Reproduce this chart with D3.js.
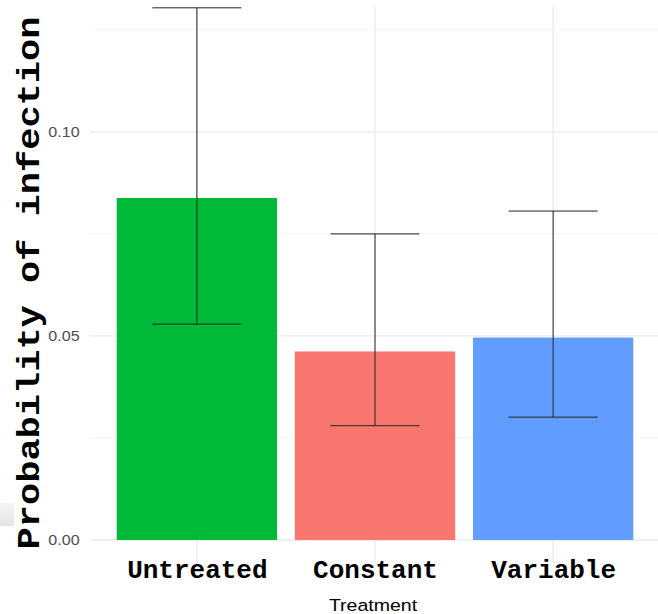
<!DOCTYPE html>
<html>
<head>
<meta charset="utf-8">
<script src="https://cdn.jsdelivr.net/npm/d3@7"></script>
<style>
  body { margin: 0; background: #fff; }
  svg { display: block; }
</style>
</head>
<body>
<script>
// values
const treatments = ["Untreated", "Constant", "Variable"];
const probability = [0.0838, 0.0462, 0.0496];
const lowerCI = [0.0529, 0.0280, 0.0301];
const upperCI = [0.1304, 0.0750, 0.0806];
const barColors = ["#00BA38", "#F8766D", "#619CFF"];
const majorTicks = [0, 0.05, 0.10];
const minorTicks = [0.025, 0.075, 0.125];

function main(){
    const width = 658, height = 614;
    const panel = {left: 90, right: 660, top: 7, bottom: 563};

    const svg = d3.select("body").append("svg")
        .attr("width", width)
        .attr("height", height);

    const data = treatments.map((t, i) => ({
        name: t, p: probability[i], lo: lowerCI[i], hi: upperCI[i], color: barColors[i]
    }));

    const x = d3.scalePoint()
        .domain(treatments)
        .range([panel.left, panel.right])
        .padding(0.6);
    const step = x.step();

    const y = d3.scaleLinear()
        .domain([-0.00564, 0.1306])
        .range([panel.bottom, panel.top]);

    // small grey artefact on the left edge of the screenshot
    const grad = svg.append("defs").append("linearGradient")
        .attr("id", "ghost").attr("x1", 0).attr("x2", 0).attr("y1", 0).attr("y2", 1);
    grad.append("stop").attr("offset", 0).attr("stop-color", "#f4f4f4");
    grad.append("stop").attr("offset", 1).attr("stop-color", "#e4e4e4");
    svg.append("rect")
        .attr("x", 0).attr("y", 503).attr("width", 14).attr("height", 23)
        .attr("fill", "url(#ghost)");

    // gridlines
    const grid = svg.append("g");
    grid.selectAll(".minor").data(minorTicks).join("line")
        .attr("x1", panel.left).attr("x2", width)
        .attr("y1", d => y(d)).attr("y2", d => y(d))
        .attr("stroke", "#f3f3f3").attr("stroke-width", 1);
    grid.selectAll(".major").data(majorTicks).join("line")
        .attr("x1", panel.left).attr("x2", width)
        .attr("y1", d => y(d)).attr("y2", d => y(d))
        .attr("stroke", "#ebebeb").attr("stroke-width", 1.3);
    grid.selectAll(".vert").data(treatments).join("line")
        .attr("x1", d => x(d)).attr("x2", d => x(d))
        .attr("y1", panel.top).attr("y2", panel.bottom)
        .attr("stroke", "#ebebeb").attr("stroke-width", 1.3);

    // bars
    svg.append("g").selectAll("rect").data(data).join("rect")
        .attr("x", d => x(d.name) - step * 0.45)
        .attr("width", step * 0.9)
        .attr("y", d => y(d.p))
        .attr("height", d => y(0) - y(d.p))
        .attr("fill", d => d.color);

    // error bars
    const eb = svg.append("g")
        .attr("stroke", "#222").attr("stroke-width", 1).attr("fill", "none");
    eb.selectAll(".stem").data(data).join("line")
        .attr("x1", d => x(d.name)).attr("x2", d => x(d.name))
        .attr("y1", d => y(d.lo)).attr("y2", d => y(d.hi));
    eb.selectAll(".top").data(data).join("line")
        .attr("x1", d => x(d.name) - step * 0.25).attr("x2", d => x(d.name) + step * 0.25)
        .attr("y1", d => y(d.hi)).attr("y2", d => y(d.hi));
    eb.selectAll(".bot").data(data).join("line")
        .attr("x1", d => x(d.name) - step * 0.25).attr("x2", d => x(d.name) + step * 0.25)
        .attr("y1", d => y(d.lo)).attr("y2", d => y(d.lo));

    // y axis (labels only)
    const yAxis = svg.append("g")
        .attr("transform", "translate(" + panel.left + ",0)")
        .call(d3.axisLeft(y).tickValues(majorTicks).tickFormat(d3.format(".2f")).tickSize(0).tickPadding(9));
    yAxis.select(".domain").remove();
    yAxis.selectAll("text")
        .attr("font-family", "Liberation Sans, Arial, sans-serif")
        .attr("font-size", "14px")
        .attr("fill", "#4d4d4d")
        .attr("transform", "scale(1.15,1)");

    // x axis (labels only)
    const xAxis = svg.append("g")
        .attr("transform", "translate(0," + y(0) + ")")
        .call(d3.axisBottom(x).tickSize(0).tickPadding(0));
    xAxis.select(".domain").remove();
    xAxis.selectAll("text")
        .attr("y", 38)
        .attr("dy", null)
        .attr("font-family", "Liberation Mono, Courier New, monospace")
        .attr("font-weight", "bold")
        .attr("font-size", "26px")
        .attr("fill", "#000");

    svg.append("text")
        .attr("transform", "translate(373,611) scale(1.15,1)")
        .attr("text-anchor", "middle")
        .attr("font-family", "Liberation Sans, Arial, sans-serif")
        .attr("font-size", "17px")
        .attr("fill", "#000")
        .text("Treatment");

    svg.append("text")
        .attr("transform", "translate(39,283) rotate(-90) scale(1,0.86)")
        .attr("text-anchor", "middle")
        .attr("font-family", "Liberation Mono, Courier New, monospace")
        .attr("font-weight", "bold")
        .attr("font-size", "37px")
        .attr("fill", "#000")
        .text("Probability of infection");
}
main();
</script>
</body>
</html>
